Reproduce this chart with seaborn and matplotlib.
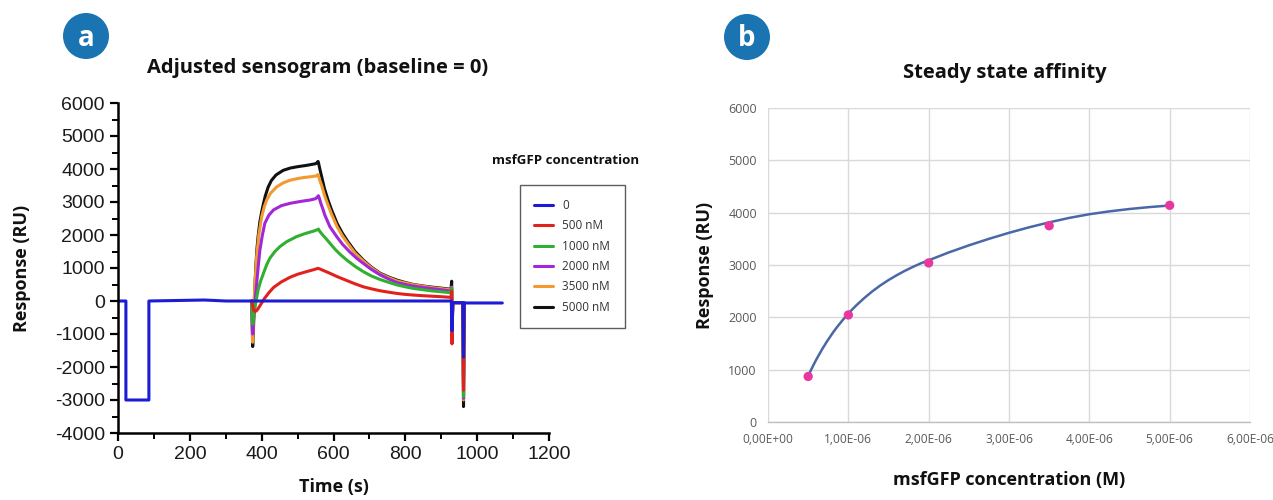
import numpy as np
import pandas as pd
import matplotlib
matplotlib.use("Agg")
import matplotlib.pyplot as plt
import seaborn as sns
from matplotlib.patches import Ellipse
from matplotlib.ticker import MultipleLocator, FuncFormatter

# ---------------- data: panel a (sensogram) ----------------
series_labels = ["0", "500 nM", "1000 nM", "2000 nM", "3500 nM", "5000 nM"]
series_colors = ["#1c1cd6", "#e3211c", "#30b030", "#a326d8", "#f29a30", "#111111"]

t_0 = [0, 22, 22, 86, 86, 240, 300, 928, 930, 932, 960, 962, 964, 1070]
v_0 = [0, 0, -3000, -3000, 0, 30, 0, 0, -900, -50, -50, -1700, -60, -60]

t_500 = [372, 375, 378, 382, 387, 393, 400, 408, 420, 433, 455, 479, 500, 525, 545, 557, 562,
         575, 590, 610, 637, 660, 683, 705, 730, 755, 776, 800, 823, 850, 875, 900, 927,
         929, 930, 932, 960, 962, 964]
v_500 = [0, -150, -280, -320, -280, -180, -60, 80, 250, 410, 580, 720, 810, 890, 950, 990, 970,
         910, 840, 740, 620, 520, 430, 370, 310, 265, 230, 200, 180, 160, 145, 130, 110,
         300, -1300, -50, -50, -2700, -60]

t_1000 = [372, 375, 378, 382, 386, 390, 397, 405, 414, 423, 437, 451, 470, 497, 520, 545, 555, 558, 561,
          570, 580, 590, 605, 620, 637, 660, 683, 705, 730, 755, 776, 800, 823, 850, 875, 900, 927,
          929, 930, 932, 960, 962, 964]
v_1000 = [0, -700, -450, -150, 100, 330, 600, 840, 1100, 1300, 1500, 1650, 1800, 1950, 2040, 2120, 2160, 2180, 2120,
          2000, 1880, 1750, 1560, 1400, 1240, 1050, 890, 760, 650, 560, 490, 430, 380, 340, 305, 280, 250,
          380, -1100, -50, -50, -2900, -60]

t_2000 = [372, 375, 378, 381, 385, 390, 395, 402, 409, 420, 433, 455, 479, 510, 535, 550, 555, 558, 561,
          565, 570, 576, 590, 609, 625, 646, 665, 683, 705, 730, 755, 776, 800, 823, 850, 875, 900, 927,
          929, 930, 932, 960, 962, 964]
v_2000 = [0, -1000, -500, -100, 400, 1000, 1540, 2000, 2360, 2600, 2760, 2890, 2960, 3020, 3060, 3100, 3150, 3190, 3100,
          2950, 2800, 2600, 2250, 1950, 1720, 1480, 1290, 1140, 960, 790, 660, 560, 500, 450, 410, 375, 340, 300,
          400, -1100, -50, -50, -2950, -60]

t_3500 = [372, 375, 378, 381, 386, 392, 400, 407, 414, 425, 442, 460, 479, 500, 516, 540, 552, 556, 559,
          562, 567, 575, 585, 595, 610, 625, 640, 660, 683, 705, 730, 755, 776, 800, 823, 850, 875, 900, 927,
          929, 930, 932, 960, 962, 964]
v_3500 = [0, -1250, -300, 500, 1340, 2000, 2550, 2850, 3060, 3270, 3460, 3580, 3660, 3710, 3740, 3770, 3790, 3830, 3760,
          3650, 3500, 3200, 2900, 2620, 2250, 1970, 1740, 1450, 1210, 1010, 820, 700, 610, 545, 490, 445, 405, 375, 335,
          420, -1100, -50, -50, -3000, -60]

t_5000 = [372, 375, 377, 379, 381, 384, 387, 390, 395, 400, 405, 410, 418, 427, 440, 460, 480, 500, 525, 550, 555, 557, 559,
          562, 567, 575, 585, 595, 610, 625, 640, 660, 683, 705, 730, 755, 776, 800, 823, 850, 875, 900, 927,
          929, 930, 932, 960, 962, 964]
v_5000 = [0, -1380, -900, -200, 400, 1100, 1600, 1950, 2400, 2700, 2950, 3180, 3450, 3650, 3820, 3960, 4030, 4070, 4110, 4160, 4200, 4230, 4150,
          4000, 3770, 3400, 3050, 2750, 2350, 2050, 1800, 1500, 1240, 1030, 840, 720, 636, 560, 500, 455, 420, 390, 354,
          600, -1100, -50, -50, -3200, -60]

sensogram = [(t_0, v_0), (t_500, v_500), (t_1000, v_1000),
             (t_2000, v_2000), (t_3500, v_3500), (t_5000, v_5000)]

# ---------------- data: panel b (steady state affinity) ----------------
conc_M = [0.5e-6, 1.0e-6, 2.0e-6, 3.5e-6, 5.0e-6]
resp_RU = [870, 2045, 3040, 3750, 4140]
fit_conc_M = [0.5e-6, 0.55e-6, 0.6e-6, 0.67e-6, 0.73e-6, 0.8e-6, 0.85e-6, 0.92e-6, 1.0e-6,
              1.1e-6, 1.2e-6, 1.3e-6, 1.4e-6, 1.5e-6, 1.6e-6, 1.7e-6, 1.8e-6, 1.9e-6, 2.0e-6,
              2.25e-6, 2.5e-6, 2.75e-6, 3.0e-6, 3.25e-6, 3.5e-6, 3.75e-6, 4.0e-6,
              4.25e-6, 4.5e-6, 4.75e-6, 5.0e-6]
fit_resp_RU = [880, 1040, 1190, 1380, 1530, 1690, 1795, 1930, 2075,
               2230, 2371, 2498, 2611, 2712, 2803, 2886, 2961, 3030, 3090,
               3240, 3375, 3500, 3615, 3720, 3815, 3900, 3970,
               4025, 4070, 4107, 4137]

# ---------------- styling ----------------
sns.set_theme(style="white")
plt.rcParams["font.family"] = ["Open Sans", "DejaVu Sans"]
plt.rcParams["axes.unicode_minus"] = False

W, H = 1273, 500
fig = plt.figure(figsize=(W / 100, H / 100), dpi=100)

def fx(px):
    return px / W

def fy(py):
    return 1 - py / H

# ---------- panel a ----------
ax1 = fig.add_axes([fx(118), fy(433), fx(549) - fx(118), fy(103) - fy(433)])
frames = []
for lab, (tt, vv) in zip(series_labels, sensogram):
    frames.append(pd.DataFrame({"Time": tt, "Response": vv, "series": lab}))
df_a = pd.concat(frames, ignore_index=True)

draw_order = [5, 4, 3, 2, 1, 0]
for i in draw_order:
    sub = df_a[df_a["series"] == series_labels[i]]
    sns.lineplot(data=sub, x="Time", y="Response", color=series_colors[i], lw=2.2,
                 sort=False, estimator=None, ax=ax1, label=series_labels[i])
ax1.set_xlim(0, 1200)
ax1.set_ylim(-4000, 6000)
ax1.xaxis.set_major_locator(MultipleLocator(200))
ax1.xaxis.set_minor_locator(MultipleLocator(100))
ax1.yaxis.set_major_locator(MultipleLocator(1000))
ax1.yaxis.set_minor_locator(MultipleLocator(500))
for s in ["top", "right"]:
    ax1.spines[s].set_visible(False)
for s in ["left", "bottom"]:
    ax1.spines[s].set_color("black")
    ax1.spines[s].set_linewidth(1.8)
ax1.tick_params(axis="both", which="major", direction="out", length=6, width=1.6,
                color="black", labelsize=14, labelcolor="#1a1a1a", bottom=True, left=True)
ax1.tick_params(axis="both", which="minor", direction="out", length=4, width=1.4,
                color="black", bottom=True, left=True)
for lbl in ax1.get_xticklabels() + ax1.get_yticklabels():
    lbl.set_family(["Liberation Sans", "DejaVu Sans"])
ax1.set_xlabel("Time (s)", fontsize=13, fontweight="bold", color="#111111")
ax1.set_ylabel("Response (RU)", fontsize=13, fontweight="bold", color="#111111")
ax1.xaxis.set_label_coords(0.5, (433 - 478) / 330)
ax1.yaxis.set_label_coords((31 - 118) / 431, 0.5)

# legend
hl, ll = ax1.get_legend_handles_labels()
order = [ll.index(l) for l in series_labels]
leg = ax1.legend([hl[k] for k in order], [ll[k] for k in order],
                 loc="upper left", bbox_to_anchor=(fx(520), fy(185)),
                 bbox_transform=fig.transFigure, frameon=True, fancybox=False,
                 fontsize=8.5, handlelength=1.6, handletextpad=0.8,
                 labelspacing=0.62, borderpad=1.2, borderaxespad=0)
leg.get_frame().set_edgecolor("#333333")
leg.get_frame().set_linewidth(1.0)
for txt in leg.get_texts():
    txt.set_color("#333333")
fig.text(fx(492), fy(160), "msfGFP concentration", fontsize=9.5, fontweight="bold",
         ha="left", va="center", color="#111111")

fig.text(fx(318), fy(68), "Adjusted sensogram (baseline = 0)", fontsize=14.5,
         fontweight="bold", ha="center", va="center", color="#111111")

# ---------- panel b ----------
ax2 = fig.add_axes([fx(768), fy(422), fx(1250) - fx(768), fy(108) - fy(422)])
df_fit = pd.DataFrame({"conc": fit_conc_M, "resp": fit_resp_RU})
df_pts = pd.DataFrame({"conc": conc_M, "resp": resp_RU})
sns.lineplot(data=df_fit, x="conc", y="resp", color="#4a67a8", lw=1.8,
             sort=False, estimator=None, ax=ax2, zorder=3)
sns.scatterplot(data=df_pts, x="conc", y="resp", color="#e8389f", s=45,
                edgecolor="none", ax=ax2, zorder=4)
ax2.set_xlim(0, 6e-6)
ax2.set_ylim(0, 6000)
ax2.xaxis.set_major_locator(MultipleLocator(1e-6))
ax2.yaxis.set_major_locator(MultipleLocator(1000))
ax2.xaxis.set_major_formatter(FuncFormatter(lambda v, p: f"{v:.2E}".replace(".", ",")))
ax2.grid(True, color="#d9d9d9", lw=1.0)
ax2.set_axisbelow(True)
for s in ["top", "right", "left"]:
    ax2.spines[s].set_visible(False)
ax2.spines["bottom"].set_color("#bfbfbf")
ax2.spines["bottom"].set_linewidth(1.0)
ax2.tick_params(axis="both", length=0, labelcolor="#595959")
ax2.tick_params(axis="y", labelsize=9, pad=8)
ax2.tick_params(axis="x", labelsize=8.6, pad=8)
ax2.set_xlabel("msfGFP concentration (M)", fontsize=13, fontweight="bold", color="#111111")
ax2.set_ylabel("Response (RU)", fontsize=13, fontweight="bold", color="#111111")
ax2.xaxis.set_label_coords(0.5, (422 - 471) / 314)
ax2.yaxis.set_label_coords((714 - 768) / 482, 0.5)

fig.text(fx(1005), fy(73), "Steady state affinity", fontsize=14.5,
         fontweight="bold", ha="center", va="center", color="#111111")

# ---------- badges ----------
badge_color = "#1b74b2"
for (cx, cy, letter) in [(86, 36, "a"), (747, 37, "b")]:
    fig.add_artist(Ellipse((fx(cx), fy(cy)), width=46 / W, height=46 / H,
                           transform=fig.transFigure, facecolor=badge_color,
                           edgecolor="none"))
    fig.text(fx(cx), fy(cy + 2), letter, fontsize=20, color="white",
             ha="center", va="center", fontweight="bold")

fig.savefig("out.png", dpi=100, facecolor="white")
